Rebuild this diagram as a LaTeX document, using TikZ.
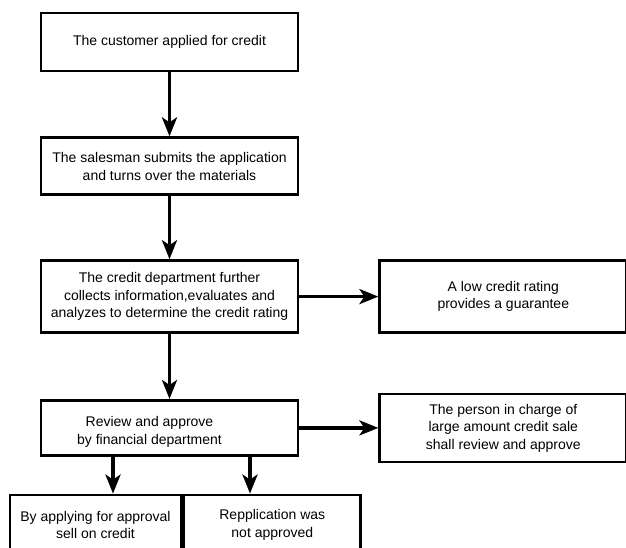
\documentclass[tikz,border=0pt]{standalone}
\usepackage{fontspec}
\setmainfont{Liberation Sans}
\usetikzlibrary{arrows.meta, positioning, calc}

\begin{document}
\begin{tikzpicture}[x=1pt, y=1pt, node distance=64pt,
  stepbox/.style={rectangle, draw=black, line width=2.8pt, minimum width=257pt, align=center, font=\fontsize{14}{17.5}\selectfont},
  sidebox/.style={stepbox, minimum width=247pt},
  txt/.style={align=center, font=\fontsize{14}{17.5}\selectfont},
  arr/.style={-{Stealth[length=19pt, width=15pt, inset=5pt]}, line width=3.4pt}
]
\useasboundingbox (0,0) rectangle (626,-548);
\clip (0,0) rectangle (626,-548);
\node[stepbox, minimum height=58pt] (apply) at (169.5,-42) {The customer applied for credit};
\node[stepbox, minimum height=57pt, below=64pt of apply] (submit) {The salesman submits the application\\and turns over the materials};
\node[stepbox, minimum height=72pt, below=63pt of submit] (rating) {The credit department further\\collects information,evaluates and\\analyzes to determine the credit rating};
\node[sidebox, minimum height=72pt, right=79pt of rating] (guarantee) {A low credit rating\\provides a guarantee};
\node[stepbox, minimum height=55pt, below=65pt of rating] (review) {};
\node[txt] (reviewtxt) at ([xshift=-20pt, yshift=-4pt]review.center) {Review and approve\\by financial department};
\node[sidebox, minimum height=68pt, right=79pt of review] (charge) {The person in charge of\\large amount credit sale\\shall review and approve};
\node[stepbox, minimum width=171pt, minimum height=60pt] (sell) at (95.5,-525) {By applying for approval\\sell on credit};
\node[stepbox, minimum width=177pt, minimum height=60pt, anchor=west] (refuse) at (sell.east) {Repplication was\\not approved};
\draw[arr] (apply) -- (submit);
\draw[arr] (submit) -- (rating);
\draw[arr] (rating) -- (guarantee);
\draw[arr] (rating) -- (review);
\draw[arr] (review) -- (charge);
\draw[arr] ([xshift=-56.5pt]review.south) -- ([xshift=-56.5pt]review.south |- sell.north);
\draw[arr] ([xshift=80.5pt]review.south) -- ([xshift=80.5pt]review.south |- refuse.north);
\end{tikzpicture}
\end{document}
